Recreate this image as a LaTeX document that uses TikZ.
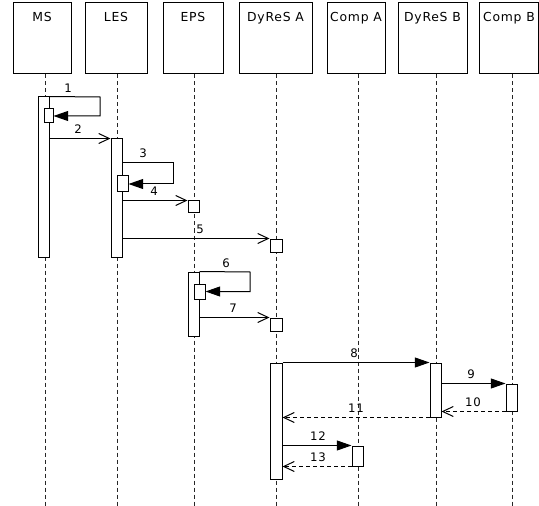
\documentclass[tikz,border=0pt]{standalone}
\usepackage{fontspec}
\setmainfont{DejaVu Sans}[LetterSpace=6]
\usetikzlibrary{arrows.meta,positioning,fit}

\begin{document}
\begin{tikzpicture}[x=0.75pt,y=-0.75pt,line width=0.75pt,
  head/.style={draw,inner sep=0pt},
  title/.style={anchor=base,inner sep=0pt,font=\fontsize{9.3}{10}\selectfont},
  bar/.style={draw,fill=white,inner sep=0pt},
  life/.style={black!85,dash pattern=on 3pt off 2.25pt},
  call/.style={-{Triangle[length=11pt,width=7.5pt]}},
  send/.style={-{Straight Barb[length=8pt,width=7.5pt]}},
  ret/.style={-{Straight Barb[length=8pt,width=7.5pt]},dash pattern=on 3pt off 2.25pt},
  num/.style={inner sep=0pt,font=\fontsize{8.8}{10}\selectfont}
]
\useasboundingbox (0,0) rectangle (539,506);

% participants
\node[head,fit={(13,3)(71,74)}] (ms) {};
\node[head,fit={(85,3)(147,74)}] (les) {};
\node[head,fit={(163,3)(223,74)}] (eps) {};
\node[head,fit={(239,3)(312,74)}] (dya) {};
\node[head,fit={(327,3)(385,74)}] (cpa) {};
\node[head,fit={(398,3)(467,74)}] (dyb) {};
\node[head,fit={(479,3)(538,74)}] (cpb) {};
\node[title] (ms-name) at (42,22) {MS};
\node[title] (les-name) at (116,22) {LES};
\node[title] (eps-name) at (193,22) {EPS};
\node[title] (dya-name) at (275.5,22) {DyReS A};
\node[title] (cpa-name) at (356,22) {Comp A};
\node[title] (dyb-name) at (432.5,22) {DyReS B};
\node[title] (cpb-name) at (509,22) {Comp B};

% lifelines
\coordinate (ms-foot) at (45,506);
\coordinate (les-foot) at (117,506);
\coordinate (eps-foot) at (194,506);
\coordinate (dya-foot) at (276,506);
\coordinate (cpa-foot) at (358,506);
\coordinate (dyb-foot) at (436,506);
\coordinate (cpb-foot) at (512,506);
\draw[life] (ms-foot |- ms.south) -- (ms-foot);
\draw[life] (les-foot |- les.south) -- (les-foot);
\draw[life] (eps-foot |- eps.south) -- (eps-foot);
\draw[life] (dya-foot |- dya.south) -- (dya-foot);
\draw[life] (cpa-foot |- cpa.south) -- (cpa-foot);
\draw[life] (dyb-foot |- dyb.south) -- (dyb-foot);
\draw[life] (cpb-foot |- cpb.south) -- (cpb-foot);

% activations
\node[bar,fit={(38,97)(49,257)}] (msbar) {};
\node[bar,fit={(44,109)(53,123)}] (s1) {};
\node[bar,fit={(111,139)(122,257)}] (lesbar) {};
\node[bar,fit={(117,176)(128,192)}] (s3) {};
\node[bar,fit={(188,201)(199,213)}] (s4) {};
\node[bar,fit={(270,239)(282,252)}] (s5) {};
\node[bar,fit={(188,272)(199,336)}] (epsbar) {};
\node[bar,fit={(194,284)(205,299)}] (s6) {};
\node[bar,fit={(270,318)(282,331)}] (s7) {};
\node[bar,fit={(270,363)(282,479)}] (dyabar) {};
\node[bar,fit={(430,363)(441,417)}] (dybbar) {};
\node[bar,fit={(506,384)(517,411)}] (cpbbar) {};
\node[bar,fit={(352,446)(363,466)}] (cpabar) {};

% messages
\draw[call] (msbar.north east) -- (100,97) |- (s1);
\draw[send] (msbar.east |- lesbar.north) -- (lesbar.north west);
\draw[call] (lesbar.east |- 0,163) -- (173,163) |- (s3);
\draw[send] (lesbar.east |- s4.north) -- (s4.north west);
\draw[send] (lesbar.east |- s5.north) -- (s5.north west);
\draw[call] (epsbar.north east) -- (250,272) |- (s6);
\draw[send] (epsbar.east |- s7.north) -- (s7.north west);
\draw[call] (dyabar.north east) -- (dybbar.north west);
\draw[call] (dybbar.east |- cpbbar.north) -- (cpbbar.north west);
\draw[ret] (cpbbar.south west) -- (dybbar.east |- cpbbar.south);
\draw[ret] (dybbar.south west) -- (dyabar.east |- dybbar.south);
\draw[call] (dyabar.east |- cpabar.north) -- (cpabar.north west);
\draw[ret] (cpabar.south west) -- (dyabar.east |- cpabar.south);

% numbers
\node[num] (n1) at (68,88) {1};
\node[num] (n2) at (78,129) {2};
\node[num] (n3) at (143,153) {3};
\node[num] (n4) at (154,191) {4};
\node[num] (n5) at (200,229) {5};
\node[num] (n6) at (226,263) {6};
\node[num] (n7) at (233,308) {7};
\node[num] (n8) at (354,353) {8};
\node[num] (n9) at (471,374) {9};
\node[num] (n10) at (473,402) {10};
\node[num] (n11) at (356,408) {11};
\node[num] (n12) at (318,436) {12};
\node[num] (n13) at (318,457) {13};
\end{tikzpicture}
\end{document}
